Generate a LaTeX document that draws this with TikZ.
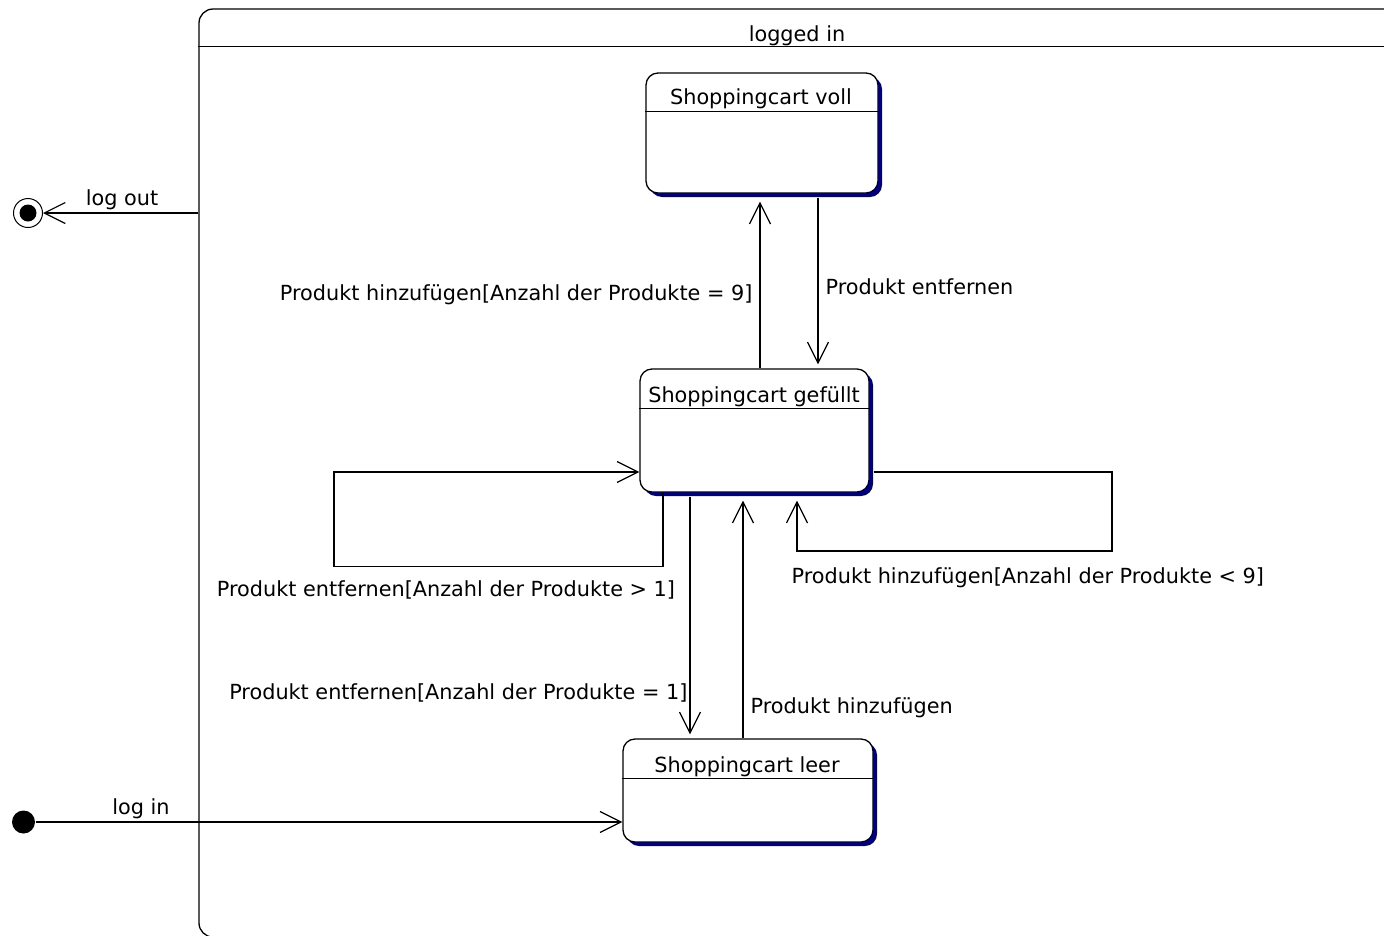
\documentclass[tikz,border=0pt]{standalone}
\usepackage{fontspec}
\setmainfont{DejaVu Sans}
\usetikzlibrary{arrows.meta,shadows}
\definecolor{shadowblue}{RGB}{0,0,128}

\begin{document}
\begin{tikzpicture}[x=1pt,y=-1pt,>={Straight Barb[length=21pt,width=21pt]},
                    line width=1.2pt,font=\fontsize{20.8}{25}\selectfont]

  \tikzstyle{statebox}=[draw,rounded corners=12pt,line width=1.3pt,fill=white,
                        drop shadow={fill=shadowblue,opacity=1,shadow xshift=4pt,shadow yshift=-4pt}]
  \tikzstyle{txt}=[inner sep=0pt]
  \tikzstyle{initstate}=[circle,fill=black,minimum size=23pt,inner sep=0pt]
  \tikzstyle{finalstate}=[circle,draw,line width=1pt,minimum size=29pt,inner sep=0pt,
                          path picture={\fill (path picture bounding box.center) circle (8.5pt);}]

  \useasboundingbox (0,0) rectangle (1384,935);

  \node[draw,rounded corners=14pt,line width=1.3pt,minimum width=1201pt,minimum height=928pt]
        (loggedin) at (799.5,473) {};
  \node[txt,anchor=base] (loggedintitle) at (797,41) {logged in};
  \draw ([yshift=-38pt]loggedin.north west) -- ([yshift=-38pt]loggedin.north east);

  \node[statebox,minimum width=232pt,minimum height=120pt] (voll) at (762,133) {};
  \node[txt,anchor=base] (vollname) at (761,104) {Shoppingcart voll};
  \draw ([yshift=-39pt]voll.north west) -- ([yshift=-39pt]voll.north east);

  \node[statebox,minimum width=229pt,minimum height=123pt] (gefuellt) at (754.5,430.5) {};
  \node[txt,anchor=base] (gefuelltname) at (754,402) {Shoppingcart gefüllt};
  \draw ([yshift=-40pt]gefuellt.north west) -- ([yshift=-40pt]gefuellt.north east);

  \node[statebox,minimum width=250pt,minimum height=103pt] (leer) at (748,790.5) {};
  \node[txt,anchor=base] (leername) at (747,772) {Shoppingcart leer};
  \draw ([yshift=-40pt]leer.north west) -- ([yshift=-40pt]leer.north east);

  \node[initstate]  (init)  at (23.5,822) {};
  \node[finalstate] (final) at (28,213)   {};

  \draw[->] ([xshift=5.5pt]gefuellt.north) -- ([xshift=-2pt,yshift=-8pt]voll.south);
  \draw[->] ([xshift=56pt,yshift=-4pt]voll.south) -- ([xshift=63.5pt,yshift=4pt]gefuellt.north);
  \draw[->] ([xshift=-91.5pt]gefuellt.south) -- ++(0,74) -| (334,472)
            -- ([yshift=-41.5pt]gefuellt.west);
  \draw[->] ([yshift=-41.5pt,xshift=4pt]gefuellt.east) -- (1112,472) |- (797,551)
            -- ([xshift=42.5pt,yshift=-8pt]gefuellt.south);
  \draw[->] ([xshift=-64.5pt,yshift=-4pt]gefuellt.south) -- ([xshift=-58pt,yshift=4pt]leer.north);
  \draw[->] ([xshift=-5pt]leer.north) -- ([xshift=-11.5pt,yshift=-8pt]gefuellt.south);
  \draw[->] (init) -- (init -| leer.west);
  \draw[->] (loggedin.west |- final) -- (final);

  \node[txt,anchor=base east] (hinzu9)   at (753,300) {Produkt hinzufügen[Anzahl der Produkte = 9]};
  \node[txt,anchor=base west] (entf)     at (825,294) {Produkt entfernen};
  \node[txt,anchor=base]      (entfgt1)  at (446,596) {Produkt entfernen[Anzahl der Produkte > 1]};
  \node[txt,anchor=base west] (hinzult9) at (791,583) {Produkt hinzufügen[Anzahl der Produkte < 9]};
  \node[txt,anchor=base east] (entf1)    at (688,699) {Produkt entfernen[Anzahl der Produkte = 1]};
  \node[txt,anchor=base west] (hinzu)    at (750,713) {Produkt hinzufügen};
  \node[txt,anchor=base]      (login)    at (141,814) {log in};
  \node[txt,anchor=base]      (logout)   at (122,205) {log out};
\end{tikzpicture}
\end{document}
